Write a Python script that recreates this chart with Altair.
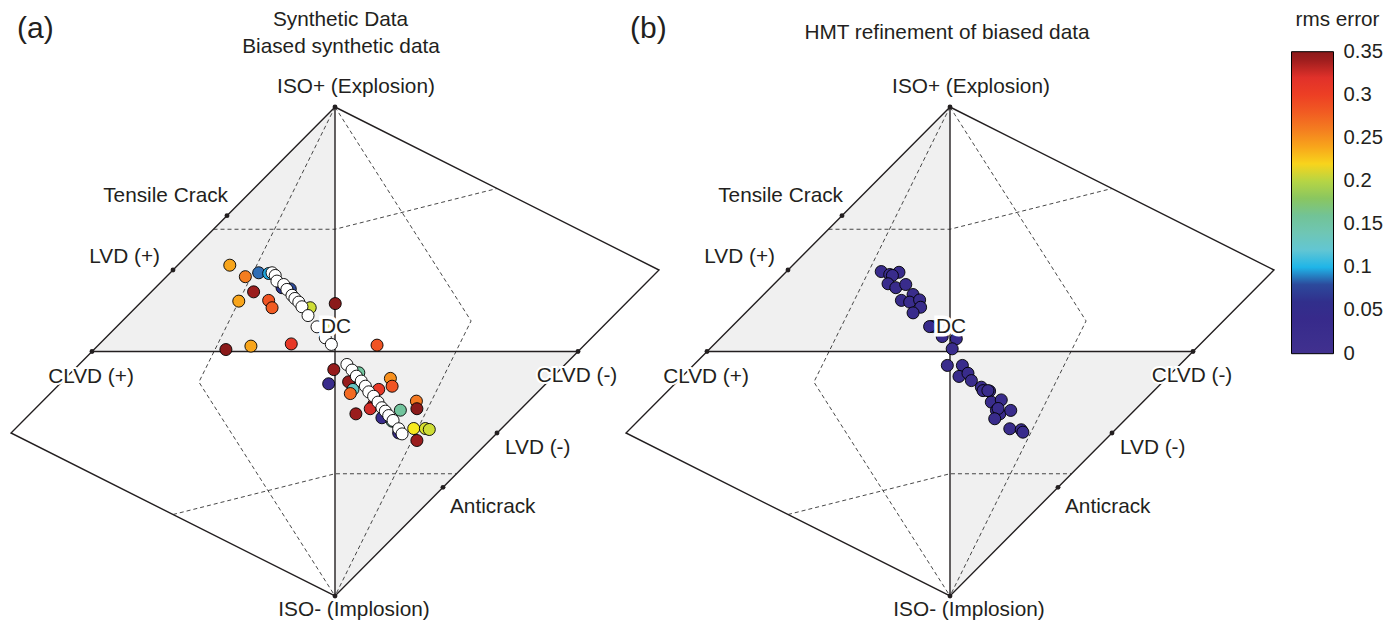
import altair as alt
import pandas as pd

FONT = "Liberation Sans"
INK = "#231f20"
LBL = 20.8

# ---------------- Hudson (tau, k) source-type diagram geometry ----------------
SOLID_SEG = ["outer"] * 5 + ["iso"] * 2 + ["clvd"] * 2
SOLID_T = [0, 4 / 3, 0, -4 / 3, 0, 0, 0, -1, 1]
SOLID_K = [1, 1 / 3, -1, -1 / 3, 1, 1, -1, 0, 0]

DASH_SEG = ["up"] * 3 + ["down"] * 3 + ["left"] * 3 + ["right"] * 3
DASH_T = [-0.5, 0, 2 / 3, -2 / 3, 0, 0.5, 0, -0.56, 0, 0, 0.56, 0]
DASH_K = [0.5, 0.5, 2 / 3, -2 / 3, -0.5, -0.5, 1, -0.125, -1, 1, 0.125, -1]

SHADE_SEG = ["ul", "ul", "lr", "lr"]
SHADE_T = [-1, 0, 0, 1]
SHADE_TOP = [0, 1, 0, 0]
SHADE_BOT = [0, 0, -1, 0]

VERT_NAME = ["ISO+ (Explosion)", "ISO- (Implosion)", "CLVD (+)", "CLVD (-)",
             "LVD (+)", "LVD (-)", "Tensile Crack", "Anticrack"]
VERT_T = [0, 0, -1, 1, -2 / 3, 2 / 3, -4 / 9, 4 / 9]
VERT_K = [1, -1, 0, 0, 1 / 3, -1 / 3, 5 / 9, -5 / 9]

# ---------------- panel (a): biased synthetic data (coloured by rms error) ----------------
A_T = [-0.433, -0.369, -0.314, -0.273, -0.218, -0.184, -0.335, -0.396, -0.273, -0.259,
       -0.102, 0.001, -0.029, -0.449, -0.346, -0.180, 0.173, -0.005, -0.026, 0.056,
       0.098, 0.074, 0.063, 0.228, 0.235, 0.180, 0.159, 0.145, 0.086, 0.193,
       0.269, 0.235, 0.335, 0.337, 0.324, 0.372, 0.388, 0.337, 0.262]
A_K = [0.353, 0.306, 0.322, 0.319, 0.261, 0.256, 0.244, 0.206, 0.209, 0.179,
       0.179, 0.196, 0.106, 0.008, 0.022, 0.031, 0.026, -0.074, -0.132, -0.124,
       -0.087, -0.155, -0.172, -0.110, -0.142, -0.155, -0.217, -0.234, -0.255, -0.271,
       -0.240, -0.285, -0.203, -0.234, -0.315, -0.315, -0.319, -0.364, -0.333]
A_RMS = [0.24, 0.26, 0.09, 0.098, 0.07, 0.08, 0.343, 0.24, 0.285, 0.28,
         0.204, 0.35, 0.204, 0.35, 0.24, 0.31, 0.285, 0.345, 0.03, 0.345,
         0.155, 0.13, 0.27, 0.25, 0.285, 0.31, 0.335, 0.325, 0.343, 0.03,
         0.155, 0.145, 0.262, 0.35, 0.212, 0.206, 0.204, 0.343, 0.03]

# synthetic (unbiased) data, white
W_T = [-0.259, -0.246, -0.239, -0.211, -0.198, -0.177, -0.165, -0.149, -0.136, -0.111,
       -0.074, -0.040, -0.015, 0.049, 0.070, 0.088, 0.108, 0.125, 0.139, 0.159,
       0.177, 0.193, 0.207, 0.221, 0.239, 0.262, 0.276]
W_K = [0.322, 0.311, 0.288, 0.274, 0.254, 0.230, 0.217, 0.202, 0.183, 0.147,
       0.101, 0.056, 0.029, -0.053, -0.076, -0.101, -0.121, -0.142, -0.165, -0.183,
       -0.207, -0.230, -0.244, -0.262, -0.282, -0.316, -0.337]

# ---------------- panel (b): HMT refinement of biased data ----------------
B_T = [-0.283, -0.248, -0.210, -0.237, -0.255, -0.223, -0.182, -0.152, -0.200, -0.166,
       -0.125, -0.121, -0.152, -0.073, -0.084, -0.032, 0.026, 0.009, -0.011, 0.051,
       0.037, 0.074, 0.088, 0.129, 0.136, 0.163, 0.156, 0.170, 0.211, 0.191,
       0.205, 0.198, 0.184, 0.250, 0.246, 0.293, 0.300]
B_K = [0.327, 0.315, 0.324, 0.311, 0.277, 0.261, 0.274, 0.233, 0.209, 0.202,
       0.211, 0.181, 0.158, 0.102, 0.102, 0.061, 0.052, 0.011, -0.057, -0.057,
       -0.102, -0.089, -0.119, -0.146, -0.160, -0.162, -0.160, -0.207, -0.198, -0.241,
       -0.255, -0.233, -0.275, -0.241, -0.316, -0.320, -0.330]
B_RMS = [0.03, 0.025, 0.035, 0.03, 0.028, 0.032, 0.03, 0.026, 0.034, 0.03,
         0.028, 0.031, 0.03, 0.027, 0.033, 0.03, 0.029, 0.031, 0.03, 0.028,
         0.032, 0.03, 0.027, 0.03, 0.033, 0.029, 0.031, 0.03, 0.028, 0.03,
         0.032, 0.029, 0.03, 0.031, 0.028, 0.03, 0.029]

# ---------------- colour bar ----------------
CB_STOPS = [-0.0002, 0.025, 0.05, 0.075, 0.09, 0.1, 0.117, 0.14, 0.163, 0.182, 0.2,
            0.211, 0.232, 0.248, 0.267, 0.298, 0.321, 0.336, 0.3502]
CB_COLORS = ["#41308f", "#3a2d8c", "#35288a", "#2b3990", "#2f6db5", "#1fb5e8",
             "#60c6d8", "#6fc6b4", "#73c391", "#8dc65a", "#b6d544", "#f7ec1e",
             "#f9b51a", "#f7941d", "#f36f22", "#ee4023", "#e0302a", "#a8201f", "#8b1a1a"]
CB_TICKS = [0, 0.05, 0.1, 0.15, 0.2, 0.25, 0.3, 0.35]

# label placement style (align, dx, dy) relative to the vertex
LABEL_STYLE = {
    "ISO+ (Explosion)": ("center", 21, -20),
    "ISO- (Implosion)": ("center", 19, 14),
    "CLVD (+)": ("center", -1, 25),
    "CLVD (-)": ("center", -1, 24),
    "LVD (+)": ("right", -13, -13),
    "LVD (-)": ("left", 8, 15),
    "Tensile Crack": ("right", 1, -20),
    "Anticrack": ("left", 7, 20),
}

# ---------------- layout ----------------
KX, KY = 243.0, 244.5
PANEL_W, PANEL_H = 615, 612
XDOM = [-325 / KX, (PANEL_W - 325) / KX]
YTOP = 343.5 / KY
YDOM = [YTOP - PANEL_H / KY, YTOP]

X = alt.X("t:Q", scale=alt.Scale(domain=XDOM, nice=False, zero=False), axis=None)
Y = alt.Y("k:Q", scale=alt.Scale(domain=YDOM, nice=False, zero=False), axis=None)

legend = alt.Legend(
    title="rms error", orient="none", legendX=1281.5, legendY=2, direction="vertical",
    gradientLength=302, gradientThickness=42, values=CB_TICKS, format=".2~f",
    labelOffset=10, labelFontSize=20.3, labelFont=FONT, labelColor=INK,
    titleFontSize=20.7, titleFont=FONT, titleFontWeight="normal", titleColor=INK,
    titleAnchor="middle", titlePadding=21, gradientStrokeColor="black",
    gradientStrokeWidth=1, labelOverlap=False,
)
COLOR = alt.Color("rms:Q", scale=alt.Scale(domain=CB_STOPS, range=CB_COLORS,
                                           interpolate="rgb"), legend=legend)


def line_df(seg, t, k):
    return pd.DataFrame({"seg": seg, "t": t, "k": k, "i": list(range(len(t)))})


def free_text(txt, x, y, size=LBL, align="center"):
    return alt.Chart(pd.DataFrame({"s": [txt]})).mark_text(
        align=align, baseline="middle", fontSize=size, font=FONT, color=INK
    ).encode(x=alt.value(x), y=alt.value(y), text="s:N")


def vertex_label(name, t, k):
    align, dx, dy = LABEL_STYLE[name]
    df = pd.DataFrame({"t": [t], "k": [k], "s": [name]})
    layers = []
    if name.startswith("CLVD"):
        layers.append(alt.Chart(df).mark_text(
            align=align, baseline="middle", dx=dx, dy=dy, fontSize=LBL, font=FONT,
            color="white", stroke="white", strokeWidth=4).encode(x=X, y=Y, text="s:N"))
    layers.append(alt.Chart(df).mark_text(
        align=align, baseline="middle", dx=dx, dy=dy, fontSize=LBL, font=FONT,
        color=INK).encode(x=X, y=Y, text="s:N"))
    return layers


def base_layers():
    shade = alt.Chart(pd.DataFrame({"seg": SHADE_SEG, "t": SHADE_T, "k": SHADE_TOP,
                                    "k2": SHADE_BOT})).mark_area(
        color="#f0f0f0", opacity=1).encode(x=X, y=Y, y2="k2:Q", detail="seg:N")
    dashed = alt.Chart(line_df(DASH_SEG, DASH_T, DASH_K)).mark_line(
        color="#333333", strokeWidth=0.9, strokeDash=[4, 3]).encode(
        x=X, y=Y, detail="seg:N", order="i:Q")
    solid = alt.Chart(line_df(SOLID_SEG, SOLID_T, SOLID_K)).mark_line(
        color=INK, strokeWidth=1.4).encode(x=X, y=Y, detail="seg:N", order="i:Q")
    dots = alt.Chart(pd.DataFrame({"t": VERT_T, "k": VERT_K})).mark_circle(
        size=24, color=INK, opacity=1).encode(x=X, y=Y)
    return [shade, dashed, solid, dots]


def label_layers():
    out = []
    for name, t, k in zip(VERT_NAME, VERT_T, VERT_K):
        out += vertex_label(name, t, k)
    dc = pd.DataFrame({"t": [0], "k": [0], "s": ["DC"]})
    out.append(alt.Chart(dc).mark_text(
        baseline="middle", dx=1, dy=-25, fontSize=LBL, font=FONT, color="white",
        stroke="white", strokeWidth=7).encode(x=X, y=Y, text="s:N"))
    out.append(alt.Chart(dc).mark_text(
        baseline="middle", dx=1, dy=-25, fontSize=LBL, font=FONT, color=INK
    ).encode(x=X, y=Y, text="s:N"))
    return out


PT = dict(size=145, stroke="black", strokeWidth=0.9, opacity=1)

a_pts = alt.Chart(pd.DataFrame({"t": A_T, "k": A_K, "rms": A_RMS})).mark_circle(
    **PT).encode(x=X, y=Y, color=COLOR)
w_pts = alt.Chart(pd.DataFrame({"t": W_T, "k": W_K})).mark_circle(
    fill="white", **PT).encode(x=X, y=Y)
b_pts = alt.Chart(pd.DataFrame({"t": B_T, "k": B_K, "rms": B_RMS})).mark_circle(
    **PT).encode(x=X, y=Y, color=COLOR)

panel_a = alt.layer(
    *base_layers(), a_pts, w_pts, *label_layers(),
    free_text("(a)", 7, 21, size=30, align="left"),
    free_text("Synthetic Data", 330.5, 12),
    free_text("Biased synthetic data", 331, 39),
).properties(width=PANEL_W, height=PANEL_H)

panel_b = alt.layer(
    *base_layers(), b_pts, *label_layers(),
    free_text("(b)", 5, 21, size=30, align="left"),
    free_text("HMT refinement of biased data", 322, 25),
).properties(width=PANEL_W, height=PANEL_H)

chart = alt.hconcat(panel_a, panel_b, spacing=0, bounds="flush").resolve_scale(
    color="shared").properties(padding=0).configure_view(strokeWidth=0)

chart.save("out.html", embed_options={"renderer": "svg", "actions": False})
